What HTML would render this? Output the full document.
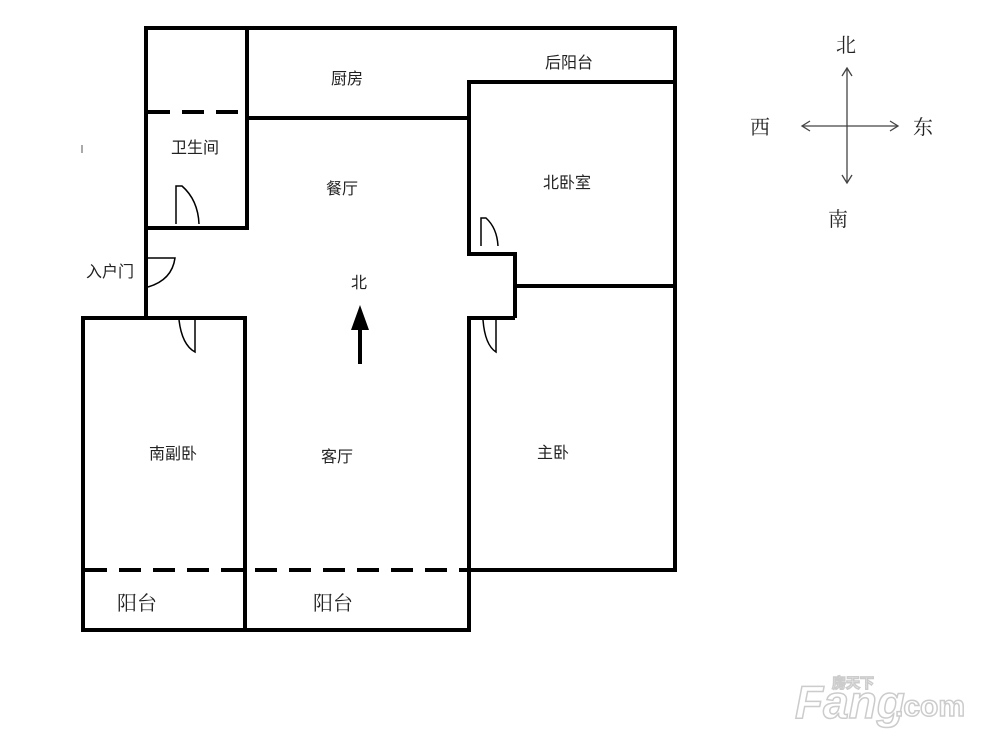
<!DOCTYPE html>
<html><head><meta charset="utf-8"><style>
html,body{margin:0;padding:0;background:#fff;}
svg{display:block;}
text{font-family:"Liberation Sans","Noto Sans CJK SC",sans-serif;fill:#222;}
.s{font-family:"Liberation Serif","Noto Serif CJK SC",serif;}
</style></head><body>
<svg width="991" height="740" viewBox="0 0 991 740" xmlns="http://www.w3.org/2000/svg">
<g stroke="#000" stroke-width="4" fill="none" stroke-linecap="square">
<line x1="146" y1="28" x2="675" y2="28"/>
<line x1="146" y1="28" x2="146" y2="316"/>
<line x1="247" y1="28" x2="247" y2="228"/>
<line x1="146" y1="228" x2="247" y2="228"/>
<line x1="249" y1="118" x2="465" y2="118"/>
<line x1="469" y1="82" x2="469" y2="254"/>
<line x1="469" y1="82" x2="675" y2="82"/>
<line x1="675" y1="28" x2="675" y2="570"/>
<line x1="469" y1="254" x2="515" y2="254"/>
<line x1="515" y1="254" x2="515" y2="316"/>
<line x1="515" y1="286" x2="675" y2="286"/>
<line x1="469" y1="318" x2="513" y2="318"/>
<line x1="469" y1="318" x2="469" y2="630"/>
<line x1="469" y1="570" x2="675" y2="570"/>
<line x1="83" y1="318" x2="245" y2="318"/>
<line x1="83" y1="318" x2="83" y2="630"/>
<line x1="245" y1="318" x2="245" y2="630"/>
<line x1="83" y1="630" x2="469" y2="630"/>
</g>
<g stroke="#000" stroke-width="4" stroke-dasharray="22,12" fill="none">
<line x1="148" y1="112" x2="247" y2="112"/>
<line x1="85" y1="570" x2="469" y2="570"/>
</g>
<g stroke="#000" stroke-width="1.5" fill="none">
<path d="M176 224 V186 H182 Q198 200 199 224"/>
<path d="M481 246 V218 H486 Q497 228 498 246"/>
<path d="M148 258 H175 Q172 280 148 287"/>
<path d="M195 320 V352 Q182 345 179 320"/>
<path d="M496 320 V352 Q485 345 483 320"/>
</g>
<line x1="360" y1="364" x2="360" y2="330" stroke="#000" stroke-width="4"/>
<polygon points="360,305 351,330 369,330" fill="#000"/>
<line x1="82" y1="145" x2="82" y2="153" stroke="#555" stroke-width="1"/>
<g stroke="#444" stroke-width="1.3" fill="none">
<line x1="847" y1="68" x2="847" y2="183"/>
<line x1="802" y1="126" x2="898" y2="126"/>
<polyline points="842,76 847,68 852,76"/>
<polyline points="842,175 847,183 852,175"/>
<polyline points="810,121 802,126 810,131"/>
<polyline points="890,121 898,126 890,131"/>
</g>
<g font-size="16">
<text x="331" y="84">厨房</text>
<text x="545" y="68">后阳台</text>
<text x="171" y="153">卫生间</text>
<text x="326" y="194">餐厅</text>
<text x="543" y="188">北卧室</text>
<text x="86" y="277" fill="#444">入户门</text>
<text x="351" y="288">北</text>
<text x="149" y="459">南副卧</text>
<text x="321" y="462">客厅</text>
<text x="537" y="458">主卧</text>
</g>
<g font-size="20" class="s">
<text x="117" y="610" class="s">阳台</text>
<text x="313" y="610" class="s">阳台</text>
<text x="836" y="52" class="s">北</text>
<text x="750" y="134" class="s">西</text>
<text x="913" y="134" class="s">东</text>
<text x="828" y="226" class="s">南</text>
</g>
<g fill="#fff" stroke="#ccc" stroke-width="1.5" font-weight="bold">
<text x="795" y="718" font-size="46" font-style="italic" style="fill:#fff">Fang</text>
<text x="895" y="716" font-size="30" style="fill:#fff">.com</text>
<text x="832" y="688" font-size="14" style="fill:#fff">房天下</text>
</g>
</svg>
</body></html>
